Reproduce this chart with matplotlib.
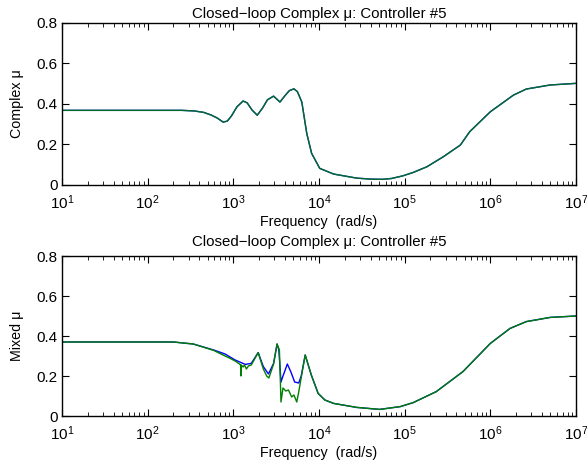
import numpy as np
import matplotlib
matplotlib.use("Agg")
import matplotlib.pyplot as plt
from matplotlib.ticker import FixedLocator, FuncFormatter, LogLocator

plt.rcParams['font.family'] = ['Liberation Sans', 'DejaVu Sans']
plt.rcParams['mathtext.fontset'] = 'custom'
plt.rcParams['mathtext.rm'] = 'Liberation Sans'
plt.rcParams['mathtext.it'] = 'Liberation Sans'

title_text = "Closed\u2212loop Complex \u03bc: Controller #5"
xlabel_text = "Frequency  (rad/s)"
ylabels = ["Complex \u03bc", "Mixed \u03bc"]
x_decades = [1, 2, 3, 4, 5, 6, 7]

# top panel: complex mu (both curves nearly identical)
freq_complex = [10, 100, 250, 350, 450, 550, 650, 760, 850, 950, 1100, 1300, 1450,
                1650, 1900, 2200, 2500, 2950, 3500, 4000, 4500, 5100, 5600, 6300,
                7200, 8200, 10200, 14800, 27500, 40000, 55000, 70000, 95000, 126000,
                182000, 282000, 447000, 575000, 1000000, 1860000, 2630000, 5000000,
                10000000]
complex_mu = [0.368, 0.368, 0.368, 0.365, 0.358, 0.345, 0.330, 0.310, 0.315, 0.340,
              0.385, 0.414, 0.405, 0.370, 0.344, 0.380, 0.420, 0.438, 0.409, 0.440,
              0.465, 0.474, 0.460, 0.409, 0.254, 0.156, 0.082, 0.054, 0.034, 0.029,
              0.028, 0.032, 0.045, 0.062, 0.090, 0.139, 0.197, 0.263, 0.361, 0.443,
              0.473, 0.493, 0.501]

# bottom panel: mixed mu, blue (upper bound) and green (lower bound)
freq_mixed_blue = [10, 200, 340, 590, 800, 1050, 1380, 1620, 1950, 2240, 2570, 2950,
                   3240, 3400, 3600, 3800, 4270, 4700, 5200, 5800, 6200, 6900, 8130,
                   9770, 11700, 14800, 27500, 51000, 89000, 126000, 234000, 479000,
                   1000000, 1700000, 2630000, 5000000, 10000000]
mixed_blue = [0.370, 0.370, 0.360, 0.330, 0.310, 0.280, 0.258, 0.263, 0.317, 0.247,
              0.210, 0.263, 0.360, 0.330, 0.170, 0.200, 0.260, 0.220, 0.170, 0.165,
              0.200, 0.305, 0.205, 0.113, 0.080, 0.063, 0.043, 0.033, 0.047, 0.067,
              0.122, 0.222, 0.363, 0.438, 0.472, 0.493, 0.500]

freq_mixed_green = [10, 200, 340, 590, 800, 900, 1050, 1180, 1215, 1228, 1240, 1300,
                    1350, 1420, 1500, 1620, 1950, 2240, 2450, 2600, 2950, 3240, 3450,
                    3600, 3800, 4100, 4400, 4800, 5100, 5500, 5800, 6100, 6900, 8130,
                    9770, 11700, 14800, 27500, 51000, 89000, 126000, 234000, 479000,
                    1000000, 1700000, 2630000, 5000000, 10000000]
mixed_green = [0.370, 0.370, 0.360, 0.328, 0.300, 0.290, 0.275, 0.260, 0.255, 0.200,
               0.255, 0.245, 0.255, 0.235, 0.250, 0.255, 0.317, 0.235, 0.200, 0.190,
               0.260, 0.360, 0.330, 0.070, 0.140, 0.125, 0.130, 0.095, 0.105, 0.070,
               0.120, 0.175, 0.305, 0.205, 0.113, 0.080, 0.063, 0.043, 0.033, 0.047,
               0.067, 0.122, 0.222, 0.363, 0.438, 0.472, 0.493, 0.500]

fig = plt.figure(figsize=(5.87, 4.68), dpi=100)
ax1 = fig.add_axes([62 / 587, 1 - 185 / 468, 514 / 587, 162.3 / 468])
ax2 = fig.add_axes([62 / 587, 1 - 416 / 468, 514 / 587, 160 / 468])

ax1.plot(freq_complex, complex_mu, color='blue', lw=1.0)
ax1.plot(freq_complex, complex_mu, color='#007f00', lw=1.0, alpha=0.85)
ax2.plot(freq_mixed_blue, mixed_blue, color='blue', lw=1.0)
ax2.plot(freq_mixed_green, mixed_green, color='#007f00', lw=1.0)

for ax, yl, tpad in zip([ax1, ax2], ylabels, [3.2, 7.2]):
    ax.set_xscale('log')
    ax.set_xlim(10, 1e7)
    ax.set_ylim(0, 0.8)
    ax.yaxis.set_major_locator(FixedLocator([0, 0.2, 0.4, 0.6, 0.8]))
    ax.yaxis.set_major_formatter(FuncFormatter(lambda v, p: "0" if v == 0 else f"{v:.1f}"))
    ax.xaxis.set_major_locator(FixedLocator([10.0 ** d for d in x_decades]))
    ax.xaxis.set_major_formatter(FuncFormatter(lambda v, p: f"$10^{{{int(round(np.log10(v)))}}}$"))
    ax.xaxis.set_minor_locator(LogLocator(base=10, subs=np.arange(2, 10), numticks=20))
    ax.tick_params(which='both', direction='in', top=True, right=True)
    ax.tick_params(which='major', length=5, width=0.8)
    ax.tick_params(which='minor', length=3, width=0.6)
    ax.tick_params(axis='x', which='major', labelsize=11, pad=6)
    ax.tick_params(axis='y', which='major', labelsize=11, pad=3)
    for s in ax.spines.values():
        s.set_linewidth(1.0)
    ax.set_title(title_text, fontsize=10.8, pad=tpad)
    ax.set_xlabel(xlabel_text, fontsize=10.3, labelpad=2)
    ax.set_ylabel(yl, fontsize=10.3, labelpad=9)

fig.savefig("out.png", dpi=100)
